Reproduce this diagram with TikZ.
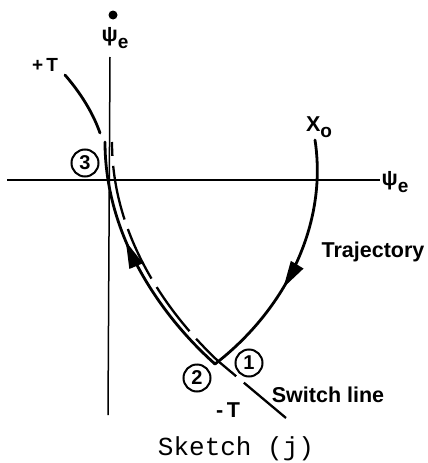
\documentclass[tikz,border=0pt]{standalone}
\usepackage{fontspec}
\setmainfont{Liberation Sans}
\newfontfamily\sketchfont{Liberation Mono}
\usetikzlibrary{arrows.meta,decorations.markings}

\newcommand{\lowsub}[1]{\raisebox{-0.3em}{\fontsize{19}{19}\selectfont #1}}

\tikzset{
  lbl/.style={font=\bfseries\fontsize{21.5}{21.5}\selectfont, inner sep=0pt},
  smlbl/.style={font=\bfseries\fontsize{19}{19}\selectfont, inner sep=0pt},
  ptnum/.style={circle, draw, line width=2pt, minimum size=27pt, inner sep=0pt, font=\bfseries\fontsize{20}{20}\selectfont},
  traj/.style={line width=2.8pt, line cap=round},
  switchln/.style={line width=2.3pt, dash pattern=on 55pt off 10pt},
  axis/.style={line width=1.5pt},
  midarrow/.style={postaction={decorate}, decoration={markings,
    mark=at position #1 with {\arrow{Triangle[length=27pt,width=14pt]}}}}
}

\begin{document}
\begin{tikzpicture}[x=1pt, y=-1pt]
\useasboundingbox (0,0) rectangle (428,463);

% axes
\draw[axis] (7,180) -- (380,180);
\draw[axis] (110,57) -- (108,415);
\fill (113,15) circle (4.5pt);
\node (psitop) [lbl] at (115,38) {ψ\lowsub{e}};
\node (psiright) [lbl] at (395,182) {ψ\lowsub{e}};

% points on the plane
\coordinate (x0) at (315,140);
\coordinate (corner) at (215,364);
\coordinate (top) at (105,142);
\coordinate (swend) at (286,418);
\coordinate (swbend) at (218,361);
\coordinate (swtop) at (112,142);

% trajectory and switch line
\draw[traj, midarrow=0.6] (x0) .. controls (328,225) and (285,310) .. (corner);
\draw[traj, midarrow=0.6] (corner) .. controls (160,315) and (105,235) .. (top);
\draw[traj] (65,75) .. controls (78,90) and (92,110) .. (100,133);
\draw[switchln] (swend) -- (swbend) .. controls (166,312) and (112,235) .. (swtop);

% labels
\node (xo) [lbl] at (319,127) {X\lowsub{o}};
\node (plusT) [smlbl] at (45,65) {+\,T};
\node (minusT) [lbl] at (228,410) {-\,T};
\node (trajlbl) [lbl] at (373,252) {Trajectory};
\node (swlbl) [lbl] at (328,395) {Switch line};
\node (p3) [ptnum] at (85,163) {3};
\node (p2) [ptnum] at (197,378) {2};
\node (p1) [ptnum] at (249,363) {1};
\node (caption) [font=\sketchfont\fontsize{26}{26}\selectfont] at (236,449) {Sketch (j)};
\end{tikzpicture}
\end{document}
